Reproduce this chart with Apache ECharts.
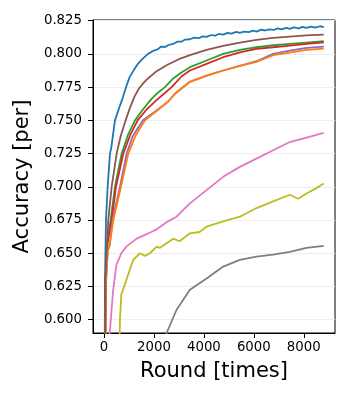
<!DOCTYPE html>
<html>
<head>
<meta charset="utf-8">
<script src="https://cdn.jsdelivr.net/npm/echarts@6/dist/echarts.min.js"></script>
<style>html,body{margin:0;padding:0;background:#fff}#c{width:350px;height:400px}</style>
</head>
<body>
<div id="c"></div>
<script>
const xTicks = [0, 2000, 4000, 6000, 8000];
const yTicks = [0.600, 0.625, 0.650, 0.675, 0.700, 0.725, 0.750, 0.775, 0.800, 0.825];

const blue = [[0,0.45],[40,0.63],[80,0.675],[147,0.70],[240,0.725],[293,0.7295],[360,0.739],[440,0.75],[620,0.76],[760,0.7675],[900,0.776],[1027,0.7825],[1200,0.788],[1360,0.7925],[1500,0.7955],[1760,0.80],[2000,0.8025],[2150,0.8035],[2293,0.8055],[2450,0.8052],[2560,0.8065],[2800,0.8078],[2950,0.8092],[3100,0.8092],[3250,0.8108],[3440,0.811],[3600,0.8122],[3800,0.8118],[3950,0.8132],[4100,0.8128],[4300,0.8142],[4450,0.8138],[4600,0.815],[4773,0.8145],[4950,0.8158],[5100,0.8152],[5300,0.8165],[5440,0.8158],[5600,0.8168],[5800,0.8163],[5950,0.8175],[6107,0.8168],[6300,0.8182],[6450,0.8176],[6600,0.8185],[6800,0.818],[6950,0.8192],[7100,0.8184],[7300,0.8195],[7440,0.8188],[7600,0.8199],[7800,0.8192],[7950,0.8204],[8100,0.8196],[8300,0.8206],[8450,0.8198],[8650,0.8208],[8800,0.8202]];
const brown = [[0,0.45],[60,0.63],[120,0.658],[173,0.675],[307,0.70],[507,0.725],[667,0.738],[867,0.75],[1050,0.76],[1227,0.768],[1400,0.774],[1573,0.778],[1760,0.7815],[2107,0.787],[2560,0.792],[3000,0.796],[3440,0.799],[4107,0.803],[4773,0.806],[5440,0.8085],[6107,0.8105],[6773,0.812],[7440,0.813],[8107,0.814],[8800,0.8145]];
const green = [[0,0.45],[70,0.63],[150,0.66],[267,0.675],[440,0.70],[707,0.725],[960,0.739],[1240,0.75],[1550,0.758],[1893,0.766],[2107,0.77],[2440,0.775],[2773,0.7815],[3100,0.786],[3440,0.79],[4107,0.795],[4773,0.80],[5440,0.803],[6107,0.805],[6773,0.8065],[7440,0.8075],[8107,0.8085],[8800,0.8095]];
const red = [[0,0.45],[60,0.63],[140,0.658],[307,0.675],[480,0.70],[773,0.725],[1050,0.739],[1347,0.75],[1700,0.758],[2093,0.765],[2400,0.77],[2707,0.775],[3100,0.783],[3440,0.7875],[4107,0.7925],[4773,0.7975],[5440,0.8012],[6107,0.8037],[6773,0.805],[7440,0.8062],[8107,0.8075],[8800,0.8087]];
const purple = [[0,0.45],[80,0.628],[150,0.652],[227,0.656],[340,0.675],[640,0.70],[907,0.725],[1150,0.738],[1560,0.75],[2107,0.7575],[2560,0.764],[2840,0.770],[3440,0.779],[4107,0.7837],[4773,0.7875],[5440,0.791],[6107,0.7945],[6773,0.800],[7440,0.8025],[8107,0.8045],[8800,0.8055]];
const orange = [[0,0.45],[80,0.63],[150,0.652],[227,0.656],[373,0.675],[680,0.70],[973,0.725],[1250,0.738],[1640,0.75],[2107,0.757],[2560,0.764],[2840,0.770],[3440,0.779],[4107,0.7837],[4773,0.7875],[5440,0.791],[6107,0.794],[6773,0.799],[7440,0.801],[8107,0.803],[8800,0.804]];
const pink = [[0,0.40],[150,0.55],[227,0.589],[360,0.621],[493,0.641],[693,0.65],[893,0.655],[1307,0.661],[1893,0.666],[2107,0.668],[2560,0.674],[2907,0.6775],[3440,0.6875],[4107,0.6975],[4773,0.7075],[5440,0.715],[6107,0.7212],[6773,0.7275],[7440,0.7337],[8107,0.737],[8800,0.7405]];
const gray = [[0,0.40],[2507,0.590],[2907,0.6075],[3440,0.6225],[4107,0.631],[4773,0.64],[5440,0.645],[6107,0.6475],[6773,0.649],[7440,0.651],[8107,0.654],[8800,0.6555]];
const olive = [[0,0.30],[600,0.56],[640,0.60],[693,0.619],[773,0.62],[827,0.626],[1093,0.641],[1173,0.645],[1440,0.65],[1640,0.648],[1840,0.65],[2107,0.655],[2227,0.654],[2773,0.661],[3027,0.659],[3440,0.665],[3827,0.666],[4107,0.67],[4773,0.674],[5440,0.6775],[6107,0.684],[6773,0.689],[7440,0.694],[7773,0.691],[8107,0.695],[8507,0.699],[8800,0.7025]];

const seriesList = [
  ['blue', blue, '#1f77b4'],
  ['green', green, '#2ca02c'],
  ['red', red, '#d62728'],
  ['purple', purple, '#9467bd'],
  ['orange', orange, '#ff7f0e'],
  ['brown', brown, '#8c564b'],
  ['pink', pink, '#e377c2'],
  ['gray', gray, '#7f7f7f'],
  ['olive', olive, '#bcbd22']
];

const font = 'DejaVu Sans';
const chart = echarts.init(document.getElementById('c'), null, {renderer: 'canvas'});
chart.setOption({
  animation: false,
  grid: {left: 93, right: 15, top: 20, bottom: 67, show: true, borderColor: '#000', borderWidth: 1, backgroundColor: 'transparent'},
  xAxis: {
    type: 'value', min: -440, max: 9250,
    name: 'Round [times]', nameLocation: 'middle', nameGap: 28,
    nameTextStyle: {fontFamily: font, fontSize: 21, color: '#000'},
    axisLine: {show: true, onZero: false, lineStyle: {color: '#000', width: 1}},
    axisTick: {show: true, inside: false, length: 5, customValues: xTicks, lineStyle: {color: '#000'}},
    axisLabel: {customValues: xTicks, margin: 8, fontFamily: font, fontSize: 13.3, color: '#000', formatter: v => String(Math.round(v))},
    splitLine: {show: false}
  },
  yAxis: {
    type: 'value', min: 0.59, max: 0.8255,
    name: 'Accuracy [per]', nameLocation: 'middle', nameGap: 54, nameRotate: 90,
    nameTextStyle: {fontFamily: font, fontSize: 21, color: '#000'},
    axisLine: {show: true, onZero: false, lineStyle: {color: '#000', width: 1}},
    axisTick: {show: true, inside: false, length: 5, customValues: yTicks, lineStyle: {color: '#000'}},
    axisLabel: {customValues: yTicks, margin: 11, fontFamily: font, fontSize: 13.3, color: '#000', formatter: v => v.toFixed(3)},
    splitLine: {show: true, lineStyle: {color: '#eeeeee', width: 1}}
  },
  series: seriesList.map(([name, data, color]) => ({
    name, type: 'line', data, showSymbol: false, symbol: 'none', clip: true,
    lineStyle: {color, width: 1.8}, itemStyle: {color}
  }))
});
</script>
</body>
</html>
